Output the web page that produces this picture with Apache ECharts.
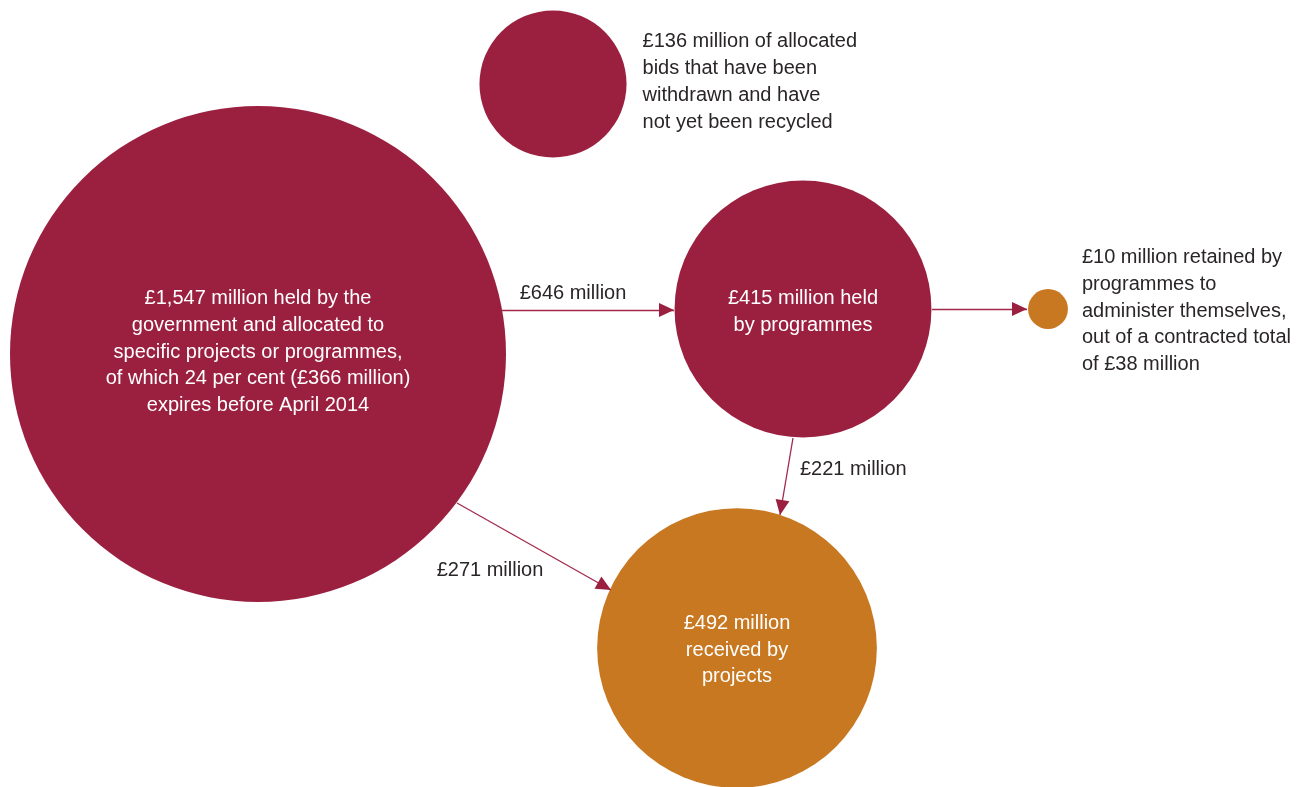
<!DOCTYPE html>
<html>
<head>
<meta charset="utf-8">
<script src="https://cdn.jsdelivr.net/npm/echarts@6/dist/echarts.min.js"></script>
<style>html,body{margin:0;padding:0;background:#fff}#c{width:1315px;height:787px}</style>
</head>
<body>
<div id="c"></div>
<script>
// ---- data ----
const nodeNames = ['held', 'withdrawn', 'programmes', 'retained', 'received'];
const nodeValues = [1547, 136, 415, 10, 492];
const nodeLabels = [
  '£1,547 million held by the\ngovernment and allocated to\nspecific projects or programmes,\nof which 24 per cent (£366 million)\nexpires before April 2014',
  '£136 million of allocated\nbids that have been\nwithdrawn and have\nnot yet been recycled',
  '£415 million held\nby programmes',
  '£10 million retained by\nprogrammes to\nadminister themselves,\nout of a contracted total\nof £38 million',
  '£492 million\nreceived by\nprojects'
];
const flowValues = [646, 10, 221, 271];
const flowLabels = ['£646 million', '', '£221 million', '£271 million'];

// ---- layout (positions / styles) ----
const RED = '#9B2040', ORANGE = '#C87820', LINE = '#A3294B';
const nodeColors = [RED, RED, RED, ORANGE, ORANGE];
const nodePos = [[258, 354], [553, 84], [803, 309], [1048, 309], [737, 648]];
const labelPlace = ['inside', 'right', 'inside', 'right', 'inside'];
const labelDist = [0, 16, 0, 14, 0];
const labelOff = [[0, -2], [0, -2], [0, 3], [0, 2], [0, 2]];
const flowPath = [
  [[502, 310], [674, 310]],
  [[932, 309], [1027, 309]],
  [[793, 438], [780, 515]],
  [[457, 503], [611, 590]]
];
const flowLabelPos = [[573, 293, 'center'], [0, 0, 'center'], [800, 469, 'left'], [490, 570, 'center']];
const maxR = 248;
const FONT = '"Liberation Sans", Arial, Helvetica, sans-serif';
const FS = 20;

const scatterData = nodeNames.map((n, i) => ({
  name: n,
  value: [nodePos[i][0], nodePos[i][1], nodeValues[i]],
  symbolSize: 2 * maxR * Math.sqrt(nodeValues[i] / nodeValues[0]),
  itemStyle: { color: nodeColors[i], opacity: 1 },
  label: {
    show: true,
    position: labelPlace[i],
    distance: labelDist[i],
    offset: labelOff[i],
    formatter: nodeLabels[i],
    color: labelPlace[i] === 'inside' ? '#ffffff' : '#2a2627',
    align: labelPlace[i] === 'inside' ? 'center' : 'left',
    fontSize: FS,
    lineHeight: 26.7,
    fontFamily: FONT
  }
}));

const linesData = flowValues.map((v, i) => ({ name: String(v), coords: flowPath[i] }));

const chart = echarts.init(document.getElementById('c'), null, { renderer: 'canvas' });
chart.setOption({
  animation: false,
  backgroundColor: '#ffffff',
  grid: { left: 0, right: 0, top: 0, bottom: 0 },
  xAxis: { type: 'value', min: 0, max: 1315, show: false },
  yAxis: { type: 'value', min: 0, max: 787, inverse: true, show: false },
  series: [
    {
      type: 'scatter',
      clip: false,
      symbol: 'circle',
      data: scatterData,
      emphasis: { disabled: true },
      z: 2
    },
    {
      type: 'lines',
      coordinateSystem: 'cartesian2d',
      clip: false,
      symbol: ['none', 'none'],
      lineStyle: { color: LINE, width: 1.3, opacity: 1, curveness: 0 },
      data: linesData,
      z: 3
    },
    {
      type: 'scatter',
      clip: false,
      symbolSize: 0,
      itemStyle: { opacity: 1 },
      data: flowLabels.map((t, i) => ({
        value: [flowLabelPos[i][0], flowLabelPos[i][1]],
        label: {
          show: t !== '',
          position: 'inside',
          formatter: t,
          align: flowLabelPos[i][2],
          color: '#2a2627',
          fontSize: FS,
          fontFamily: FONT
        }
      })),
      z: 4
    }
  ]
});

// arrow heads drawn as graphic polygons aligned with flow direction, via the axis scale
const heads = flowPath.map(p => {
  const a = chart.convertToPixel({ gridIndex: 0 }, p[0]);
  const b = chart.convertToPixel({ gridIndex: 0 }, p[1]);
  const dx = b[0] - a[0], dy = b[1] - a[1];
  const len = Math.sqrt(dx * dx + dy * dy);
  const ux = dx / len, uy = dy / len;
  const L = 15, W = 7;
  const bx = b[0] - ux * L, by = b[1] - uy * L;
  return {
    type: 'polygon',
    shape: { points: [[b[0], b[1]], [bx - uy * W, by + ux * W], [bx + uy * W, by - ux * W]] },
    style: { fill: RED },
    z: 10
  };
});
chart.setOption({ graphic: heads });
</script>
</body>
</html>
